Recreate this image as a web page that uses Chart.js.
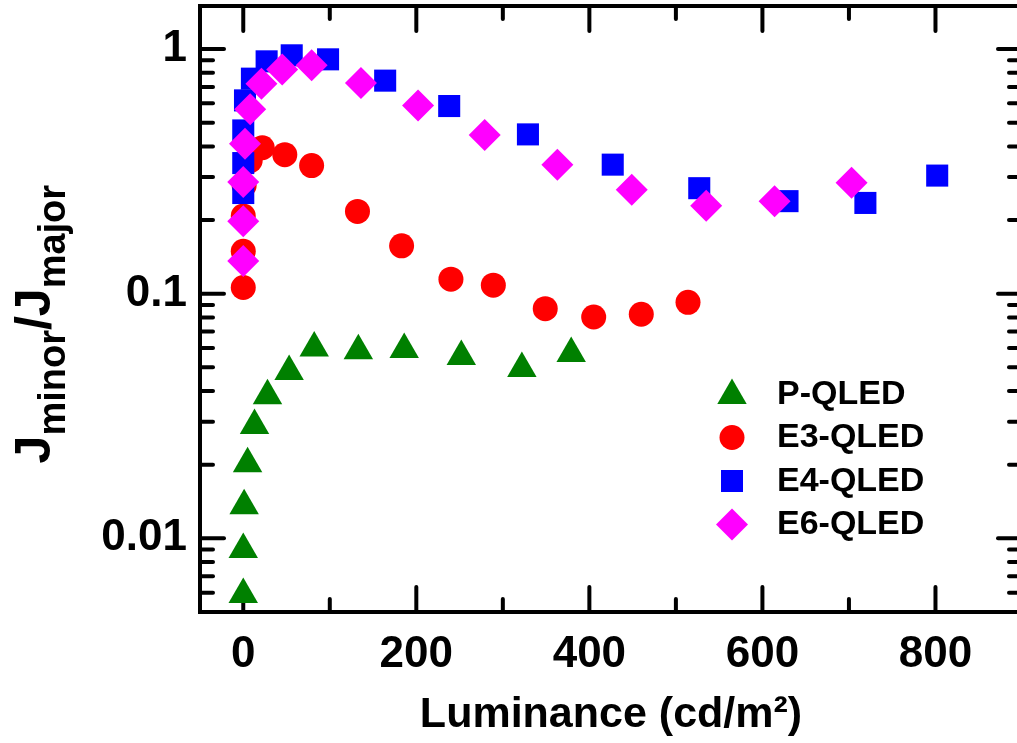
<!DOCTYPE html>
<html><head><meta charset="utf-8">
<script src="https://cdn.jsdelivr.net/npm/chart.js@4"></script>
<style>
html,body{margin:0;padding:0;overflow:hidden;background:#fff;width:1017px;height:743px}
#wrap{position:absolute;left:0;top:0;width:1025px;height:743px}
</style>
</head><body><div id="wrap"><canvas id="c" width="1025" height="743"></canvas></div>
<script>
const FONT = "'Liberation Sans', Arial, sans-serif";

const xTickLabels = [0, 200, 400, 600, 800];
const yTickLabels = [0.01, 0.1, 1];
const seriesNames = ['P-QLED', 'E3-QLED', 'E4-QLED', 'E6-QLED'];

const pX = [0, 0, 1, 5, 13, 28, 53, 82, 133, 186, 252, 322, 379];
const pY = [0.0059, 0.0090, 0.0136, 0.0202, 0.0289, 0.0383, 0.0481, 0.060, 0.0585, 0.0592, 0.0554, 0.0495, 0.057];

const e3X = [0, 0, 0, 1, 8, 22, 48, 79, 132, 183, 240, 289, 349, 405, 460, 514];
const e3Y = [0.106, 0.149, 0.208, 0.277, 0.35, 0.395, 0.37, 0.334, 0.217, 0.157, 0.1147, 0.1084, 0.0869, 0.0803, 0.0824, 0.0922];

const e4X = [0, 0, 0, 2, 10, 27, 56, 98, 164, 238, 329, 427, 527, 629, 719, 802];
const e4Y = [0.258, 0.342, 0.465, 0.617, 0.757, 0.891, 0.943, 0.908, 0.743, 0.585, 0.448, 0.337, 0.270, 0.239, 0.235, 0.304];

const e6X = [0, 0, 0, 2, 8, 21, 45, 79, 136, 202, 279, 363, 449, 535, 614, 703];
const e6Y = [0.136, 0.198, 0.286, 0.410, 0.567, 0.722, 0.826, 0.858, 0.727, 0.588, 0.445, 0.337, 0.266, 0.229, 0.239, 0.284];

const pts = (xs, ys) => xs.map((x, i) => ({x, y: ys[i]}));

const styles = [
  {color: '#008000', pointStyle: 'triangle', radius: 17, order: 4},
  {color: '#ff0000', pointStyle: 'circle', radius: 12.5, order: 3},
  {color: '#0000ff', pointStyle: 'rect', radius: 15.6, order: 2},
  {color: '#ff00ff', pointStyle: 'rectRot', radius: 16, order: 1}
];
const allData = [pts(pX, pY), pts(e3X, e3Y), pts(e4X, e4Y), pts(e6X, e6Y)];

const datasets = allData.map((d, i) => ({
  label: seriesNames[i],
  data: d,
  showLine: false,
  pointStyle: styles[i].pointStyle,
  pointRadius: styles[i].radius,
  pointHoverRadius: styles[i].radius,
  pointBackgroundColor: styles[i].color,
  pointBorderColor: styles[i].color,
  pointBorderWidth: 0,
  backgroundColor: styles[i].color,
  borderColor: styles[i].color,
  order: styles[i].order
}));

function drawMarker(ctx, style, x, y, r) {
  ctx.beginPath();
  if (style === 'circle') {
    ctx.arc(x, y, r, 0, Math.PI * 2);
  } else if (style === 'triangle') {
    ctx.moveTo(x, y - r);
    ctx.lineTo(x + r * Math.sin(2 * Math.PI / 3), y - r * Math.cos(2 * Math.PI / 3));
    ctx.lineTo(x + r * Math.sin(4 * Math.PI / 3), y - r * Math.cos(4 * Math.PI / 3));
    ctx.closePath();
  } else if (style === 'rect') {
    const s = r * Math.SQRT1_2;
    ctx.rect(x - s, y - s, 2 * s, 2 * s);
  } else {
    ctx.moveTo(x, y - r); ctx.lineTo(x + r, y); ctx.lineTo(x, y + r); ctx.lineTo(x - r, y);
    ctx.closePath();
  }
  ctx.fill();
}

const frameTicks = {
  id: 'frameTicks',
  beforeDatasetsDraw(chart) {
    const {ctx, chartArea: a, scales: {x, y}} = chart;
    ctx.save();
    ctx.strokeStyle = '#000';
    ctx.lineWidth = 4;
    ctx.lineCap = 'round';
    const seg = (x1, y1, x2, y2) => { ctx.beginPath(); ctx.moveTo(x1, y1); ctx.lineTo(x2, y2); ctx.stroke(); };
    const xStep = 100;
    for (let v = Math.ceil(x.min / xStep) * xStep; v < x.max; v += xStep) {
      if (v <= x.min) continue;
      const px = x.getPixelForValue(v);
      const L = xTickLabels.includes(v) ? 25 : 13;
      seg(px, a.bottom, px, a.bottom - L);
      seg(px, a.top, px, a.top + L);
    }
    const e0 = Math.floor(Math.log10(y.min)), e1 = Math.ceil(Math.log10(y.max));
    for (let e = e0; e <= e1; e++) {
      for (let m = 1; m <= 9; m++) {
        const v = m * Math.pow(10, e);
        if (v <= y.min * 1.0001 || v >= y.max * 0.9999) continue;
        const py = y.getPixelForValue(v);
        const L = m === 1 ? 24 : 13;
        seg(a.left, py, a.left + L, py);
        seg(a.right, py, a.right - L, py);
      }
    }
    ctx.lineCap = 'butt';
    ctx.lineJoin = 'miter';
    ctx.strokeRect(a.left, a.top, a.right - a.left, a.bottom - a.top);
    ctx.restore();
  },
  afterDraw(chart) {
    const {ctx, chartArea: a} = chart;
    // y-axis title with subscripts
    ctx.save();
    ctx.fillStyle = '#000';
    ctx.textBaseline = 'alphabetic';
    const big = 50, small = 38;
    const parts = [
      {t: 'J', s: big, dy: 0},
      {t: 'minor', s: small, dy: 15},
      {t: '/', s: big, dy: 0},
      {t: 'J', s: big, dy: 0},
      {t: 'major', s: small, dy: 15}
    ];
    let total = 0;
    parts.forEach(p => { ctx.font = 'bold ' + p.s + 'px ' + FONT; p.w = ctx.measureText(p.t).width; total += p.w; });
    const cy = a.top + (a.bottom - a.top) * 0.525;
    ctx.translate(50, cy);
    ctx.rotate(-Math.PI / 2);
    let xx = -total / 2;
    parts.forEach(p => { ctx.font = 'bold ' + p.s + 'px ' + FONT; ctx.fillText(p.t, xx, p.dy); xx += p.w; });
    ctx.restore();

    // legend inside plot
    ctx.save();
    const lx = a.left + 532, tx = a.left + 577;
    const rowY = [392.5, 436, 479.5, 523];
    ctx.font = 'bold 34px ' + FONT;
    ctx.textBaseline = 'middle';
    ctx.textAlign = 'left';
    chart.data.datasets.forEach((ds, i) => {
      const ry = a.top + rowY[i] - 6;
      ctx.fillStyle = styles[i].color;
      const off = styles[i].pointStyle === 'triangle' ? 3 : 1.5;
      drawMarker(ctx, styles[i].pointStyle, lx, ry + off, styles[i].radius);
      ctx.fillStyle = '#000';
      ctx.fillText(ds.label, tx, ry + 2);
    });
    ctx.restore();
  }
};

const tickFont = {family: FONT, size: 44, weight: 'bold'};

new Chart(document.getElementById('c'), {
  type: 'scatter',
  data: {datasets},
  options: {
    responsive: false,
    animation: false,
    devicePixelRatio: 1,
    layout: {autoPadding: false, padding: {top: 6, right: 3, left: 0, bottom: 0}},
    plugins: {legend: {display: false}, tooltip: {enabled: false}},
    scales: {
      x: {
        type: 'linear', position: 'bottom', min: -50, max: 900,
        afterBuildTicks: s => { s.ticks = xTickLabels.map(v => ({value: v})); },
        afterFit: s => { s.height = 131; s.paddingLeft = 0; s.paddingRight = 0; },
        grid: {display: false, drawTicks: false},
        border: {display: false},
        ticks: {
          autoSkip: false, maxRotation: 0, minRotation: 0, padding: 16,
          color: '#000', font: tickFont,
          callback: v => String(v)
        },
        title: {
          display: true, text: 'Luminance (cd/m²)', color: '#000',
          font: {family: FONT, size: 43, weight: 'bold'},
          padding: {top: 0, bottom: 2}
        }
      },
      y: {
        type: 'logarithmic', position: 'left', min: 0.005, max: 1.5,
        afterBuildTicks: s => { s.ticks = yTickLabels.map(v => ({value: v})); },
        afterFit: s => { s.width = 200; s.paddingTop = 0; s.paddingBottom = 0; },
        grid: {display: false, drawTicks: false},
        border: {display: false},
        ticks: {
          autoSkip: false, padding: 13, color: '#000', font: tickFont,
          callback: v => String(v)
        }
      }
    }
  },
  plugins: [frameTicks]
});
</script>
</body></html>
